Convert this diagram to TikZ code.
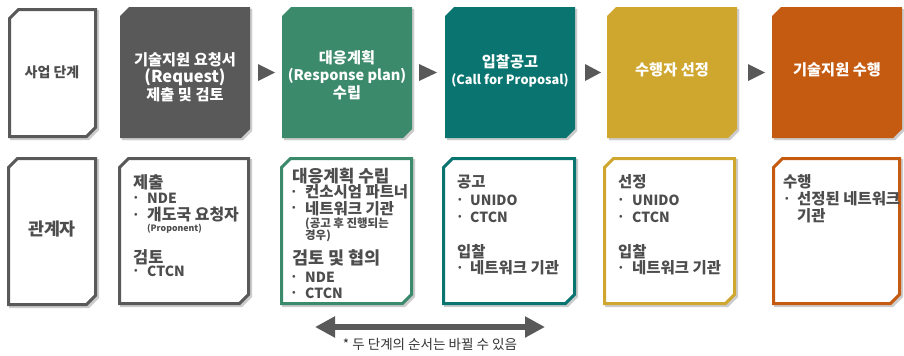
\documentclass[tikz,border=0pt]{standalone}
\usepackage{fontspec}
\setmainfont{Noto Sans CJK KR}
\usetikzlibrary{arrows.meta}
\definecolor{dg}{HTML}{595959}
\definecolor{gr}{HTML}{3B8A6C}
\definecolor{tl}{HTML}{0A7470}
\definecolor{gd}{HTML}{CFA72F}
\definecolor{og}{HTML}{C55A11}
\definecolor{tx}{HTML}{4D4D4D}
\newcommand{\chb}[5]{\path[#5] ({#1+9},{#2}) -- ({#3},{#2}) -- ({#3},{#4-9}) -- ({#3-9},{#4}) -- ({#1},{#4}) -- ({#1},{#2+9}) -- cycle;}
\newcommand{\cbx}[5]{\chb{#1+2}{#2+2}{#3+2}{#4+2}{#5,draw=black!20,fill=black!20}\chb{#1}{#2}{#3}{#4}{#5}}
\newcommand{\tri}[2]{\fill[dg] (#1,64) -- (#1,81) -- (#2,72.5) -- cycle;}
\newcommand{\fsz}[1]{\fontsize{#1}{17}\selectfont}
\tikzset{
  fbox/.style={line width=0.1pt},
  obox/.style={line width=3bp, fill=white, line join=miter},
  toptxt/.style={text=white, align=center, font=\fontsize{15.3}{17.5}\selectfont\bfseries, inner sep=0},
  lbl/.style={text=tx, align=center, font=\fontsize{14}{17}\selectfont\bfseries, inner sep=0},
  hd/.style={anchor=west, text=tx, font=\fontsize{15.5}{16}\selectfont\bfseries, inner sep=0},
  la/.style={anchor=west, text=tx, font=\fontsize{14}{16}\selectfont\bfseries, inner sep=0},
  bu/.style={anchor=center, text=tx, font=\fontsize{9}{9}\selectfont\bfseries, inner sep=0},
  sm/.style={anchor=west, text=tx, font=\fontsize{11.5}{11.5}\selectfont\bfseries, inner sep=0},
  smp/.style={anchor=west, text=tx, font=\fontsize{8.8}{9}\selectfont\bfseries, inner sep=0},
}
\begin{document}
\begin{tikzpicture}[x=1bp,y=-1bp]
\useasboundingbox (0,0) rectangle (904,355);
\fill[white] (0,0) rectangle (904,355);
% top row
\cbx{9.5}{9.5}{95.5}{136.5}{obox,draw=dg}
\cbx{120}{7}{250}{138}{fbox,fill=dg}
\cbx{282}{7}{412}{138}{fbox,fill=gr}
\cbx{445}{7}{575}{138}{fbox,fill=tl}
\cbx{607}{7}{737}{138}{fbox,fill=gd}
\cbx{772}{7}{902}{138}{fbox,fill=og}
\tri{258}{275}
\tri{419}{437}
\tri{585}{601}
\tri{748}{765}
% bottom row
\cbx{8.5}{158.5}{95.5}{304.5}{obox,draw=dg}
\cbx{119.5}{158.5}{248.5}{303.5}{obox,draw=dg}
\cbx{281.5}{158.5}{411.5}{303.5}{obox,draw=gr}
\cbx{443.5}{158.5}{574.5}{303.5}{obox,draw=tl}
\cbx{604.5}{158.5}{734.5}{303.5}{obox,draw=gd}
\cbx{773.5}{158.5}{899.5}{303.5}{obox,draw=og}
% top labels
\node[lbl] (t0) at (52,72) {사업 단계};
\node[toptxt] (t1) at (185,77) {기술지원 요청서\\{\fsz{16.5}(Request)}\\제출 및 검토};
\node[toptxt] (t2) at (347,75) {대응계획\\{\fsz{14.6}(Response plan)}\\수립};
\node[toptxt] (t3) at (510,71) {입찰공고\\{\fsz{12.8}(Call for Proposal)}};
\node[toptxt] (t4) at (672,70) {수행자 선정};
\node[toptxt] (t5) at (837,70) {기술지원 수행};
% bottom labels
\node[lbl, font=\fontsize{17.4}{18}\selectfont\bfseries] (b0) at (52,229) {관계자};
% box 1
\node[hd, font=\fontsize{16.5}{17}\selectfont\bfseries] (b1a) at (133,182) {제출};
\node[bu] (b1b) at (136,198) {•}; \node[la] (b1c) at (147,198) {NDE};
\node[bu] (b1d) at (136,215) {•}; \node[hd, font=\fontsize{16}{17}\selectfont\bfseries] (b1e) at (147,215) {개도국 요청자};
\node[smp] (b1f) at (147,228.5) {(Proponent)};
\node[hd, font=\fontsize{16.5}{17}\selectfont\bfseries] (b1g) at (133,257) {검토};
\node[bu] (b1h) at (136,271) {•}; \node[la] (b1i) at (147,271) {CTCN};
% box 2
\node[hd, font=\fontsize{17}{17}\selectfont\bfseries] (b2a) at (292,176) {대응계획 수립};
\node[bu] (b2b) at (294,192) {•}; \node[hd] (b2c) at (305,192) {컨소시엄 파트너};
\node[bu] (b2d) at (294,208.5) {•}; \node[hd] (b2e) at (305,208.5) {네트워크 기관};
\node[sm] (b2f) at (305,223.5) {(공고 후 진행되는};
\node[sm] (b2g) at (305,235.5) {경우)};
\node[hd, font=\fontsize{17.5}{17}\selectfont\bfseries] (b2h) at (292,258) {검토 및 협의};
\node[bu] (b2i) at (294,277) {•}; \node[la] (b2j) at (305,277) {NDE};
\node[bu] (b2k) at (294,293) {•}; \node[la] (b2l) at (305,293) {CTCN};
% box 3
\node[hd] (b3a) at (457,182) {공고};
\node[bu] (b3b) at (460,200) {•}; \node[la] (b3c) at (470,200) {UNIDO};
\node[bu] (b3d) at (460,217) {•}; \node[la] (b3e) at (470,217) {CTCN};
\node[hd] (b3f) at (457,252) {입찰};
\node[bu] (b3g) at (460,268) {•}; \node[hd] (b3h) at (470,268) {네트워크 기관};
% box 4
\node[hd] (b4a) at (618,182) {선정};
\node[bu] (b4b) at (621,200) {•}; \node[la] (b4c) at (632,200) {UNIDO};
\node[bu] (b4d) at (621,217) {•}; \node[la] (b4e) at (632,217) {CTCN};
\node[hd] (b4f) at (618,252) {입찰};
\node[bu] (b4g) at (621,268) {•}; \node[hd] (b4h) at (632,268) {네트워크 기관};
% box 5
\node[hd] (b5a) at (783,182) {수행};
\node[bu] (b5b) at (787,199) {•}; \node[hd] (b5c) at (797,199) {선정된 네트워크};
\node[hd] (b5d) at (797,215.5) {기관};
% double arrow
\coordinate (aL) at (315,327);
\coordinate (aR) at (545,327);
\draw[dg, line width=6bp, {Triangle[length=20bp,width=20bp]}-{Triangle[length=20bp,width=20bp]}] (aL) -- (aR);
\node[text=black!80, font=\fontsize{13.6}{14}\selectfont, inner sep=0] (note) at (430,344) {* 두 단계의 순서는 바뀔 수 있음};
\end{tikzpicture}
\end{document}
